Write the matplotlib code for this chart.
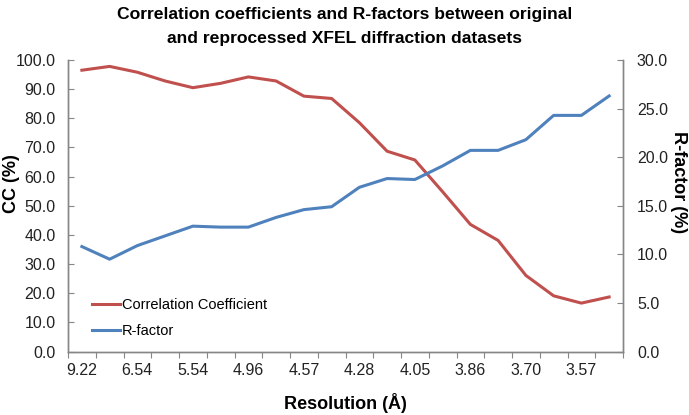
import matplotlib
matplotlib.use("Agg")
from matplotlib import pyplot as plt
import numpy as np

plt.rcParams['font.family'] = ['Liberation Sans', 'DejaVu Sans']

# resolution shells, labelled every second one as in the original
res_labels = ["9.22", "6.54", "5.54", "4.96", "4.57", "4.28", "4.05", "3.86", "3.70", "3.57"]

# values (%)
cc = [96.5, 97.8, 95.8, 92.8, 90.5, 92.0, 94.2, 92.8, 87.6, 86.8,
      78.5, 68.7, 65.7, 54.8, 43.6, 38.1, 26.1, 19.1, 16.6, 18.7]
rfac = [10.8, 9.5, 10.9, 11.9, 12.9, 12.8, 12.8, 13.8, 14.6, 14.9,
        16.9, 17.8, 17.7, 19.1, 20.7, 20.7, 21.8, 24.3, 24.3, 26.3]

red = '#C0504D'
blue = '#4F81BD'
spine = '#868686'
txt = '#222222'

fig = plt.figure(figsize=(6.89, 4.15), dpi=100)
ax = fig.add_axes([68 / 689, 1 - 351.5 / 415, (623 - 68) / 689, (351.5 - 60) / 415])
ax2 = ax.twinx()

x = np.arange(len(cc))
l1, = ax.plot(x, cc, color=red, lw=2.2, label='Correlation Coefficient')
l2, = ax2.plot(x, rfac, color=blue, lw=2.2, label='R-factor')

ax.set_xlim(-0.5, len(cc) - 0.5)
ax.set_ylim(0, 100)
ax2.set_ylim(0, 30)

ax.set_yticks(np.arange(0, 101, 10))
ax.set_yticklabels([f'{v:.1f}' for v in np.arange(0, 101, 10)])
ax2.set_yticks(np.arange(0, 31, 5))
ax2.set_yticklabels([f'{v:.1f}' for v in np.arange(0, 31, 5)])

# tick marks between categories, labels on every other category
ax.set_xticks(np.arange(-0.5, len(cc), 1.0))
ax.set_xticklabels([])
ax.set_xticks(np.arange(0, len(cc), 2), minor=True)
ax.set_xticklabels(res_labels, minor=True)
ax.tick_params(axis='x', which='major', direction='out', length=4, color=spine)
ax.tick_params(axis='x', which='minor', length=0, pad=8, labelsize=11.5, labelcolor=txt)
ax.tick_params(axis='y', direction='in', length=4, color=spine, labelsize=11.5, labelcolor=txt, pad=9)
ax2.tick_params(axis='y', direction='in', length=4, color=spine, labelsize=11.5, labelcolor=txt, pad=10)

for a in (ax, ax2):
    a.spines['top'].set_visible(False)
    for s in ('left', 'right', 'bottom'):
        a.spines[s].set_color(spine)
        a.spines[s].set_linewidth(1.0)

ax.set_ylabel('CC (%)', fontsize=13, fontweight='bold', va='center')
ax.yaxis.set_label_coords((12 - 68) / 555, (351.5 - 184) / 291.5)
ax2.set_ylabel('R-factor (%)', fontsize=13, fontweight='bold', rotation=-90, va='center')
ax2.yaxis.set_label_coords(1 + 55 / 555, (351.5 - 182) / 291.5)
ax.set_xlabel('Resolution (Å)', fontsize=13, fontweight='bold', va='center')
ax.xaxis.set_label_coords(0.5, -(403 - 351.5) / 291.5)

fig.text(0.5, 1 - 7 / 415, 'Correlation coefficients and R-factors between original\nand reprocessed XFEL diffraction datasets',
         ha='center', va='top', fontsize=12.6, fontweight='bold', linespacing=1.75)

ax.legend(handles=[l1, l2], loc='lower left', bbox_to_anchor=(0.02, 0.0), frameon=False,
          fontsize=10.5, handlelength=1.9, handletextpad=0.15, labelspacing=0.85)

fig.savefig('out.png', dpi=100)
